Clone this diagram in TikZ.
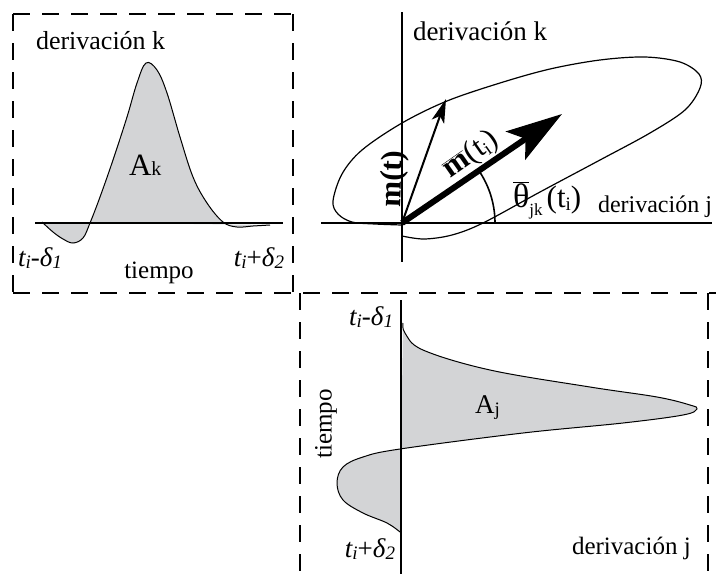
\documentclass[tikz,border=0pt]{standalone}
\usepackage{fontspec}
\setmainfont{Liberation Serif}
\usetikzlibrary{arrows.meta}
\definecolor{areagray}{RGB}{211,212,214}
\newcommand{\mysub}[1]{\raisebox{-0.1em}{\fontsize{19}{19}\selectfont #1}}
\newcommand{\tminus}{{\fontsize{27}{30}\selectfont\itshape t\mysub{i}-δ\mysub{1}}}
\newcommand{\tplus}{{\fontsize{27}{30}\selectfont{\itshape t\mysub{i}}+{\itshape δ\mysub{2}}}}
\begin{document}
\begin{tikzpicture}[x=1pt,y=-1pt,
  frame/.style={line width=2.4pt, dash pattern=on 17pt off 12pt},
  axis/.style={line width=2.4pt},
  curve/.style={line width=1pt},
  lbl/.style={font=\fontsize{25}{30}\selectfont, inner sep=0pt, outer sep=0pt},
  biglbl/.style={font=\fontsize{31}{34}\selectfont, inner sep=0pt, outer sep=0pt}
]
\useasboundingbox (0,0) rectangle (716,574);

% dashed frames
\draw[frame] (13,14) -- (293,14);
\draw[frame] (13,14) -- (13,293);
\draw[frame] (293,14) -- (293,293);
\draw[frame] (13,293) -- (716,293);
\draw[frame] (300,293) -- (300,574);
\draw[frame] (708,293) -- (708,574);

% ---------- panel 1: derivacion k vs tiempo
\fill[areagray] plot[smooth, tension=0.6] coordinates {
 (42,222) (53,232) (63,239) (73,243) (83,238) (90,223) (100,197) (113,160)
 (127,117) (137,83) (146,63) (157,70) (167,93) (180,137) (193,177) (207,203)
 (223,222) (237,227) (253,226) (270,225)} -- cycle;
\draw[curve] plot[smooth, tension=0.6] coordinates {
 (42,222) (53,232) (63,239) (73,243) (83,238) (90,223) (100,197) (113,160)
 (127,117) (137,83) (146,63) (157,70) (167,93) (180,137) (193,177) (207,203)
 (223,222) (237,227) (253,226) (270,225)};
\coordinate (a1) at (35,223);
\coordinate (a2) at (283,223);
\draw[axis] (a1) -- (a2);

\node[lbl, anchor=base west] (dk1) at (36,49) {\fontsize{26}{30}\selectfont derivación k};
\node[lbl, anchor=base west] (Ak) at (129,175) {{\fontsize{31}{34}\selectfont A}{\fontsize{20}{20}\selectfont k}};
\node[lbl, anchor=base west] (t1a) at (18,266) {\tminus};
\node[lbl, anchor=base east] (t2a) at (284,266) {\tplus};
\node[lbl, anchor=base] (tiempo1) at (159,278) {tiempo};

% ---------- panel 2: plane
\draw[line width=1.2pt] plot[smooth, tension=0.55] coordinates {
 (402,236) (424,239) (452,235) (483,223) (540,192) (600,160) (650,133)
 (685,110) (700,88) (699,74) (680,62) (645,57) (600,60) (550,69) (500,83)
 (447,101) (402,123) (362,150) (342,174) (333,201) (338,214) (352,222)
 (375,224) (402,225)};

\coordinate (O) at (402,223);
\coordinate (hx1) at (321,223);
\coordinate (hx2) at (712,223);
\coordinate (vy1) at (402,12);
\coordinate (vy2) at (402,262);
\draw[axis] (hx1) -- (hx2);
\draw[axis] (vy1) -- (vy2);

\draw[line width=1.6pt] plot[domain=0:34, samples=30] ({402+93*cos(\x)},{223-93*sin(\x)});

\coordinate (mtip) at (446,99);
\coordinate (mbtip) at (562,114);
\draw[line width=2pt, -{Stealth[length=24pt,width=13pt,inset=6pt]}] (O) -- (mtip);
\draw[line width=6pt, -{Stealth[length=56pt,width=34pt,inset=12pt]}] (O) -- (mbtip);

\node[lbl, anchor=base west] (dk2) at (413,40) {\fontsize{27}{32}\selectfont derivación k};
\node[biglbl, rotate=88] (mt) at (394,179) {\bfseries m(t)};
\node[biglbl, rotate=35] (mb) at (471,155) {$\overline{\mbox{\bfseries m}}$(t\mysub{i})};
\node[lbl, anchor=base west] (theta) at (513,207)
  {{\fontsize{34}{36}\selectfont $\overline{\mbox{θ}}$}\raisebox{-0.35em}{\fontsize{17}{17}\selectfont jk}\,{\fontsize{31}{34}\selectfont (t\mysub{i})}};
\node[lbl, anchor=base west] (dj1) at (598,212) {\fontsize{24}{28}\selectfont derivación j};

% ---------- panel 3: derivacion j vs tiempo (rotated)
\fill[areagray] plot[smooth, tension=0.6] coordinates {
 (403,323) (405,333) (423,350) (490,370) (590,387) (657,397) (690,405)
 (697,409) (683,415) (623,423) (523,433) (400,449) (363,457) (343,467)
 (337,483) (343,500) (363,513) (387,523) (400,532)} -- cycle;
\draw[curve] plot[smooth, tension=0.6] coordinates {
 (403,323) (405,333) (423,350) (490,370) (590,387) (657,397) (690,405)
 (697,409) (683,415) (623,423) (523,433) (400,449) (363,457) (343,467)
 (337,483) (343,500) (363,513) (387,523) (400,532)};
\coordinate (b1) at (401,300);
\coordinate (b2) at (401,574);
\draw[axis] (b1) -- (b2);

\node[lbl, anchor=base east] (t1b) at (393,325) {\tminus};
\node[lbl, anchor=base east] (t2b) at (395,557) {\tplus};
\node[lbl, rotate=90] (tiempo2) at (326,424) {tiempo};
\node[lbl, anchor=base west] (Aj) at (475,413) {{\fontsize{27}{30}\selectfont A}\mysub{j}};
\node[lbl, anchor=base west] (dj2) at (572,554) {derivación j};
\end{tikzpicture}
\end{document}
